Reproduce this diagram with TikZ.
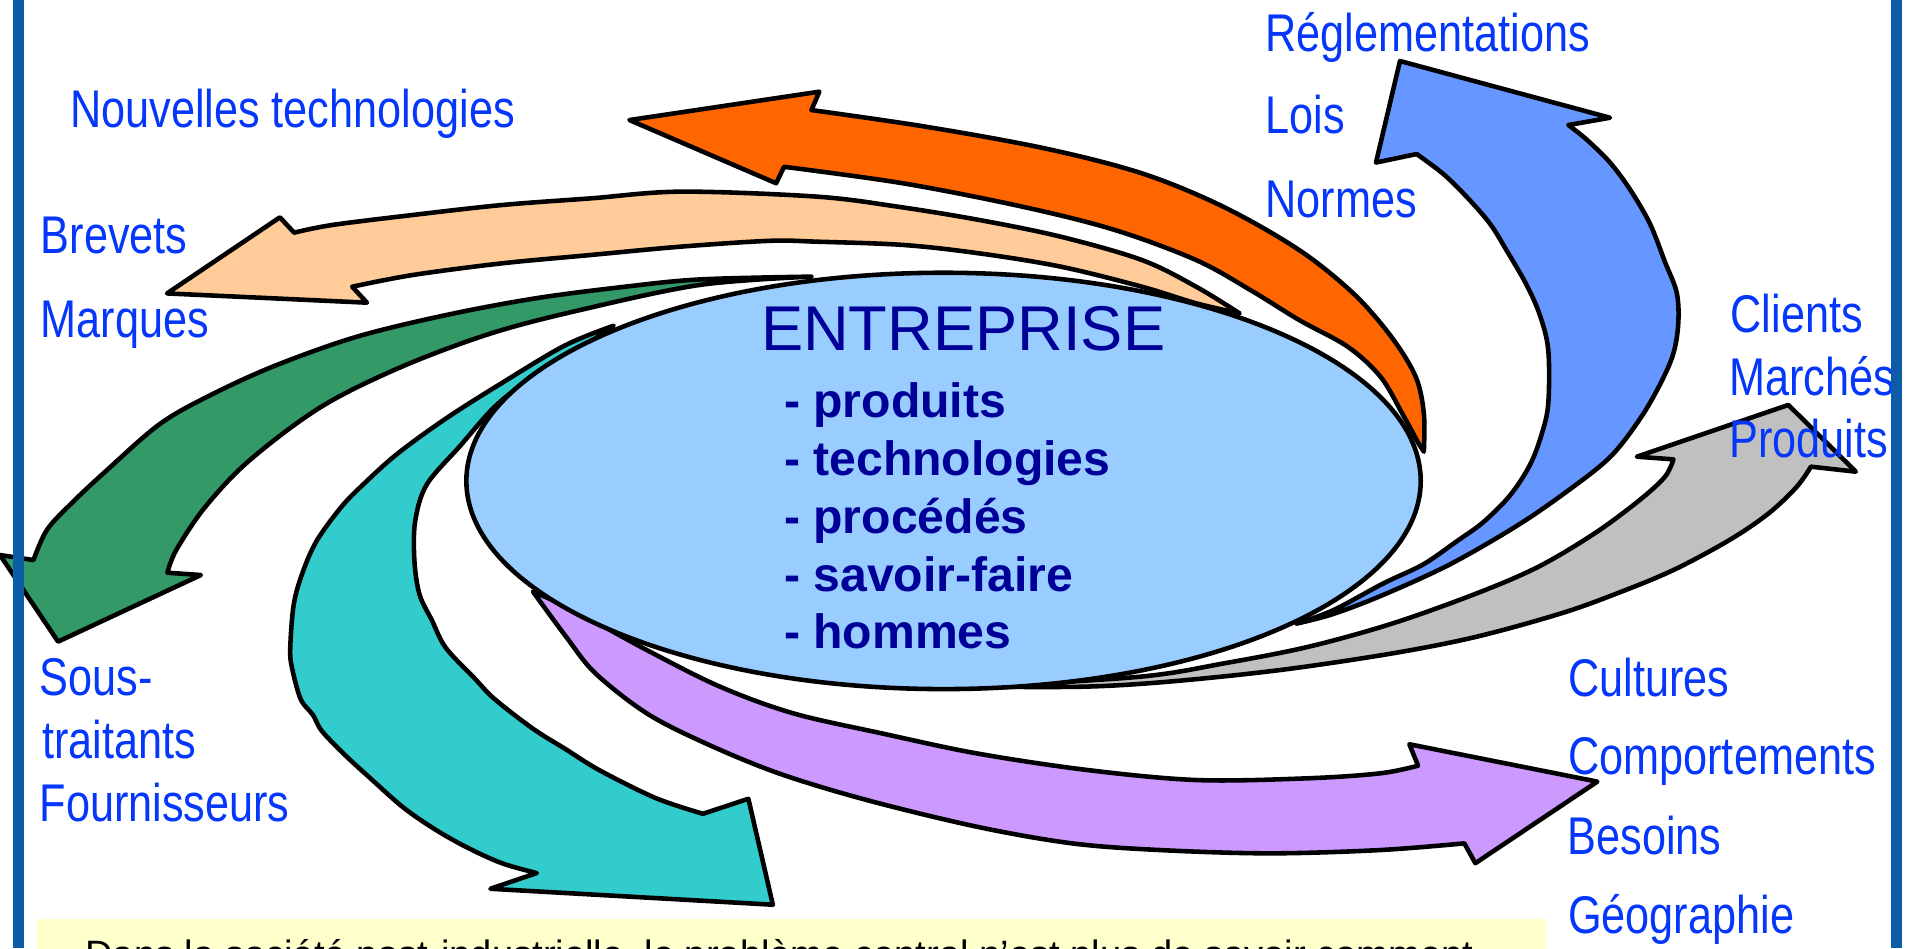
\documentclass[tikz,border=0pt]{standalone}
\usepackage{fontspec}
\setmainfont{Liberation Sans}
\newfontfamily\lab[FakeStretch=0.815]{Liberation Sans}
\usetikzlibrary{shapes.geometric}
\definecolor{bordblue}{RGB}{12,92,168}
\definecolor{lblblue}{RGB}{5,55,250}
\definecolor{navy}{RGB}{0,0,153}
\definecolor{ellfill}{RGB}{153,204,255}
\definecolor{orangeA}{RGB}{255,102,0}
\definecolor{peachA}{RGB}{255,204,153}
\definecolor{greenA}{RGB}{51,153,102}
\definecolor{tealA}{RGB}{51,204,204}
\definecolor{purpleA}{RGB}{204,153,255}
\definecolor{greyA}{RGB}{192,192,192}
\definecolor{blueA}{RGB}{102,150,255}
\definecolor{yellowA}{RGB}{255,255,204}
\begin{document}
\begin{tikzpicture}[x=0.0121747cm, y=-0.0121747cm,
  arrowshape/.style={draw=black, line width=1.3pt, line join=round},
  lbl/.style={anchor=base west, inner sep=0pt, text=lblblue, font=\lab\fontsize{15.1}{18}\selectfont},
  item/.style={anchor=base west, inner sep=0pt, text=navy, font=\bfseries\fontsize{13.7}{16}\selectfont},
  sm/.style={smooth, tension=0.55}]
\useasboundingbox (0,0) rectangle (1568,779);
\clip (0,0) rectangle (1568,779);

% yellow note box
\fill[yellowA] (30,755) rectangle (1270,800);
\node[anchor=base west, inner sep=0pt, font=\fontsize{10.85}{13}\selectfont] (note) at (69.5,794.4)
  {Dans la société post-industrielle, le problème central n'est plus de savoir comment};

% orange arrow
\draw[arrowshape, fill=orangeA]
  plot[sm] coordinates {(1169.5,371) (1169.5,339.5) (1162.8,309.4) (1142.7,276.5) (1111.6,241) (1067,205.3) (1004.8,169.8) (938,142.4) (857.8,121.8) (760,104) (666.5,90.4)}
  -- (673,75.3) -- (517,98.6) -- (637.5,150.5) -- (644,137)
  -- plot[sm] coordinates {(644,137) (742,150.6) (840,169.8) (915.7,188.9) (982.5,213.6) (1027,238.2) (1067,262.8) (1107,284.8) (1133.9,309.4) (1151.7,339.5) (1165,364)}
  -- cycle;

% peach arrow
\draw[arrowshape, fill=peachA]
  plot[sm] coordinates {(1018.2,257.4) (982.5,235.5) (938,213.6) (871.2,194.4) (804.4,180.7) (737.7,169.8) (670.9,161.5) (559.6,157.4) (485.5,162.9) (412.2,168.4) (338.8,176.6) (272.8,184.8) (241.6,191.1)}
  -- (229.9,178.5) -- (137.2,241) -- (301.4,248.6) -- (289.3,235.5)
  -- plot[sm] coordinates {(289.3,235.5) (338.8,225.9) (412.2,216.3) (485.5,209.4) (558.9,202.6) (632.1,197.8) (670.9,198.5) (742.1,201.2) (804.4,208.1) (871.2,219) (938,235.5) (982.5,249.1) (1018.2,257.4)}
  -- cycle;

% green arrow
\draw[arrowshape, fill=greenA]
  plot[sm] coordinates {(666.5,227.2) (575,229.5) (513.3,235.5) (440,245) (366.7,258.7) (293.3,276.5) (227.3,299.8) (176,323) (132,347.7) (88,386) (58.7,413.4) (38.5,435.3) (27.5,460)}
  -- (0,455.9) -- (47.7,527) -- (165,472.3) -- (137.5,470.4)
  -- plot[sm] coordinates {(137.5,470.4) (144.8,451.7) (168.7,416.2) (205.3,377.8) (264,334) (330,301.2) (403.4,273.8) (476.7,254.6) (575,234) (666.5,227.2)}
  -- cycle;

% teal arrow
\draw[arrowshape, fill=tealA]
  plot[sm] coordinates {(504.1,267.5) (463.9,283.8) (412.2,314.6) (366.2,343.8) (326,373) (297.2,399) (280,416.8) (260,444.4) (248.5,470.4) (241.3,496.3) (238.4,532.1) (239.8,548.3) (247,574.3) (257.1,587.3) (264.3,600.3) (282.9,619.7) (305.9,640.8) (331.7,663.6) (357.6,681.4) (383.5,696) (412.2,709) (440.9,717.1)}
  -- (402.8,730) -- (634.8,743.1) -- (614.7,656.1) -- (577.4,668.4)
  -- plot[sm] coordinates {(577.4,668.4) (538.6,655.5) (492.7,632.8) (463.9,614.9) (438,598.7) (406.4,574.3) (389.2,556.5) (366.2,532.1) (354.7,509.4) (344.6,488.3) (340.4,460.7) (341,428.2) (350.5,398) (377.7,366.5) (406.4,334) (435.1,311.3) (463.9,295.1) (504.1,267.5)}
  -- cycle;

% purple arrow
\draw[arrowshape, fill=purpleA]
  plot[sm] coordinates {(437.8,486) (470.9,501) (531.2,533.9) (591.4,564) (651.6,585.9) (724,602.3) (802.2,618.8) (892.6,632.4) (982.9,640.7) (1073.3,639.3) (1133.5,635.2) (1164.8,628.9)}
  -- (1157.6,611.3) -- (1312,642) -- (1211.8,709) -- (1202.8,692.7)
  -- plot[sm] coordinates {(1202.8,692.7) (1133.5,698.2) (1043.2,700.9) (952.8,698.2) (880.5,692.7) (802.2,679) (711.9,657.1) (639.6,635.2) (579.4,610.5) (531.2,585.9) (489,553) (464.9,522.9) (437.8,486)}
  -- cycle;

% grey arrow
\draw[arrowshape, fill=greyA]
  plot[sm] coordinates {(805,564) (936.6,555.8) (1005.7,544.8) (1074.8,531.2) (1144,512) (1213.1,487.3) (1263.8,465.4) (1309.9,438) (1346.8,410.7) (1367.6,391.5) (1374.5,377.3)}
  -- (1344.5,375.1) -- (1468.9,332.6) -- (1524.3,387.4) -- (1487.4,383.3)
  -- plot[sm] coordinates {(1487.4,383.3) (1475.9,399.7) (1452.8,421.6) (1420.6,443.5) (1374.5,468.2) (1328.4,487.3) (1282.3,503.8) (1213.1,522.9) (1144,536.6) (1051.8,550.3) (959.7,559.9) (890.5,564) (805,564)}
  -- cycle;

% blue arrow
\draw[arrowshape, fill=blueA]
  plot[sm] coordinates {(1065,512.2) (1095.1,501.2) (1136.2,479.2) (1169.1,463.5) (1196.5,444.6) (1218.3,428.9) (1240.3,406.9) (1256.7,381.8) (1266.3,356.6) (1271.7,331.5) (1271.7,287.5) (1264.9,259.1) (1253.9,234) (1237.5,205.7) (1223.8,183.7) (1204.7,161.7) (1185.5,142.9) (1163.6,126.5)}
  -- (1130.2,133.5) -- (1149.9,50.1) -- (1322.4,96.7) -- (1288.2,102.7)
  -- plot[sm] coordinates {(1288.2,102.7) (1303.2,114.6) (1322.4,133.5) (1338.8,155.5) (1355.2,183.7) (1367.6,215.2) (1377.2,240.3) (1378.5,265.5) (1374.4,290.6) (1363.5,315.7) (1347,344.1) (1322.4,375.5) (1286.8,403.8) (1245.7,432) (1191,463.5) (1136.2,488.6) (1095.1,504.3) (1065,512.2)}
  -- cycle;

% central ellipse
\node[ellipse, draw=black, line width=1.3pt, fill=ellfill, inner sep=0pt,
      minimum width=9.545cm, minimum height=4.164cm] (ent) at (775,395) {};
\node[anchor=base west, inner sep=0pt, text=navy, font=\fontsize{18}{21}\selectfont] (title) at (624.5,287.5) {ENTREPRISE};
\node[item] (i1) at (643.5,343) {- produits};
\node[item] (i2) at (643.5,390.5) {- technologies};
\node[item] (i3) at (643.5,438) {- procédés};
\node[item] (i4) at (643.5,485.5) {- savoir-faire};
\node[item] (i5) at (643.5,533) {- hommes};

% labels
\node[lbl] (nouv) at (57,105) {Nouvelles technologies};
\node[lbl] (regl) at (1039,42) {Réglementations};
\node[lbl] (lois) at (1039,110) {Lois};
\node[lbl] (norm) at (1039,179) {Normes};
\node[lbl] (brev) at (33,208) {Brevets};
\node[lbl] (marq) at (33,277) {Marques};
\node[lbl] (cli) at (1421,273) {Clients};
\node[lbl] (mar) at (1420,324.5) {Marchés};
\node[lbl] (prod) at (1420,376) {Produits};
\node[lbl] (sous) at (32,571) {Sous-};
\node[lbl] (trait) at (34,623) {traitants};
\node[lbl] (four) at (32,675) {Fournisseurs};
\node[lbl] (cult) at (1287.5,572) {Cultures};
\node[lbl] (comp) at (1287.5,636.5) {Comportements};
\node[lbl] (bes) at (1287,702) {Besoins};
\node[lbl] (geo) at (1287.5,767) {Géographie};

% side borders
\fill[bordblue] (10.8,0) rectangle (19.8,779);
\fill[bordblue] (1553,0) rectangle (1562,779);
\end{tikzpicture}
\end{document}
